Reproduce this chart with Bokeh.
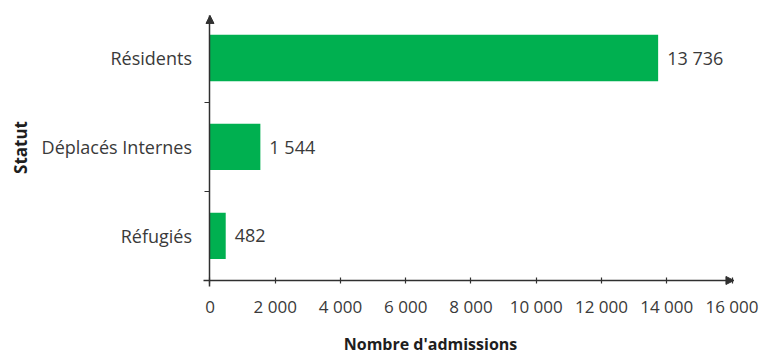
import math

from bokeh.plotting import figure
from bokeh.models import Range1d, FixedTicker, Arrow, NormalHead, ColumnDataSource, Label
from bokeh.core.properties import value
from bokeh.embed import file_html
from bokeh.resources import INLINE

# Admissions by status (bottom to top)
categories = ["Réfugiés", "Déplacés Internes", "Résidents"]
admissions = [482, 1544, 13736]
x_ticks = [0, 2000, 4000, 6000, 8000, 10000, 12000, 14000, 16000]

BAR_GREEN = "#00B050"
TEXT = "#3a3a3a"
TITLE = "#1e1e1e"
AXIS = "#303030"
FONT = "Open Sans"

W, H = 761, 355
# The plotting frame covers the whole canvas; the axes are pinned inside it
# with fixed_location, so nothing (arrow heads included) gets clipped.
X_START, X_END = -6421, 16904
Y_START, Y_END = -1.343, 2.646
X_TIP, Y_TIP = 16060, 2.478      # where the axis arrows end
X_BASE = -0.5                     # the x axis runs along the lower edge of the bottom band


def fr_number(n):
    return f"{n:,}".replace(",", " ")


def px_to_x(px):
    return X_START + px * (X_END - X_START) / W


def px_to_y(py):
    return Y_END - py * (Y_END - Y_START) / H


positions = list(range(len(categories)))
source = ColumnDataSource(dict(
    y=positions,
    value=admissions,
    label=[fr_number(v) for v in admissions],
))

p = figure(
    width=W, height=H,
    output_backend="svg", toolbar_location=None,
    x_range=Range1d(X_START, X_END),
    y_range=Range1d(Y_START, Y_END),
    min_border=0,
)
p.outline_line_color = None
p.grid.grid_line_color = None
p.background_fill_color = "white"
p.border_fill_color = "white"

p.hbar(y="y", right="value", left=0, height=0.52, source=source,
       fill_color=BAR_GREEN, line_color=None)

p.text(x="value", y="y", text="label", source=source,
       x_offset=9, text_baseline="middle", text_align="left",
       text_font=value(FONT), text_font_size="18px", text_color=TEXT)

# x axis
xa = p.xaxis[0]
xa.fixed_location = X_BASE
xa.bounds = (px_to_x(203), X_TIP)
xa.ticker = FixedTicker(ticks=x_ticks)
xa.major_label_overrides = {t: fr_number(t) for t in x_ticks}
xa.minor_tick_line_color = None
xa.major_tick_in = 3
xa.major_tick_out = 3
xa.major_tick_line_color = AXIS
xa.major_tick_line_width = 1.2
xa.axis_line_color = AXIS
xa.axis_line_width = 1.5
xa.major_label_standoff = 12
xa.major_label_text_font = FONT
xa.major_label_text_font_size = "17px"
xa.major_label_text_color = TEXT

# y axis: names at the bar centres, tick marks between the bands
ya = p.yaxis[0]
ya.fixed_location = 0
ya.bounds = (px_to_y(286), Y_TIP)
ya.ticker = FixedTicker(ticks=positions,
                        minor_ticks=[i + 0.5 for i in positions[:-1]])
ya.major_label_overrides = {i: c for i, c in zip(positions, categories)}
ya.major_tick_in = 0
ya.major_tick_out = 0
ya.minor_tick_in = 0
ya.minor_tick_out = 5
ya.minor_tick_line_color = AXIS
ya.minor_tick_line_width = 1.2
ya.axis_line_color = AXIS
ya.axis_line_width = 1.5
ya.major_label_standoff = 13
ya.major_label_text_font = FONT
ya.major_label_text_font_size = "18px"
ya.major_label_text_color = TEXT
ya.axis_label = None

# arrow heads at the ends of both axes
p.add_layout(Arrow(
    end=NormalHead(size=8, fill_color=AXIS, line_color=AXIS, line_width=1),
    x_start=X_TIP - 200, y_start=X_BASE, x_end=X_TIP, y_end=X_BASE,
    line_color=AXIS, line_width=1.5))
p.add_layout(Arrow(
    end=NormalHead(size=8, fill_color=AXIS, line_color=AXIS, line_width=1),
    x_start=0, y_start=Y_TIP - 0.05, x_end=0, y_end=Y_TIP,
    line_color=AXIS, line_width=1.5))

# axis titles
p.add_layout(Label(x=px_to_x(430), y=px_to_y(343), text="Nombre d'admissions",
                   text_align="center", text_baseline="middle",
                   text_font=FONT, text_font_style="bold",
                   text_font_size="16px", text_color=TITLE))
p.add_layout(Label(x=px_to_x(20), y=px_to_y(147), text="Statut", angle=math.pi / 2,
                   text_align="center", text_baseline="middle",
                   text_font=FONT, text_font_style="bold",
                   text_font_size="17px", text_color=TITLE))

open("out.html", "w").write(file_html(p, INLINE))
